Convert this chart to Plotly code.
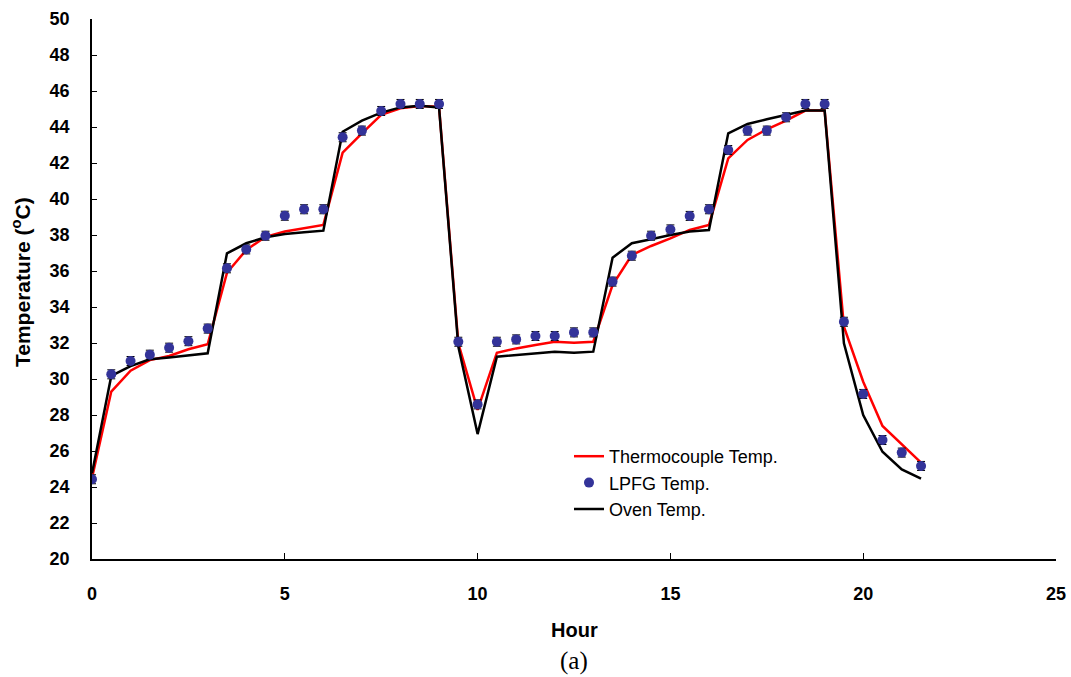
import plotly.graph_objects as go

hours = [0, 0.5, 1, 1.5, 2, 2.5, 3, 3.5, 4, 4.5, 5, 5.5, 6, 6.5, 7, 7.5, 8, 8.5, 9,
         9.5, 10, 10.5, 11, 11.5, 12, 12.5, 13, 13.5, 14, 14.5, 15, 15.5, 16, 16.5,
         17, 17.5, 18, 18.5, 19, 19.5, 20, 20.5, 21, 21.5]

thermocouple = [24.5, 29.3, 30.46, 31.05, 31.28, 31.65, 31.93, 35.9, 37.17, 37.9, 38.19,
                38.37, 38.56, 42.57, 43.65, 44.67, 45.04, 45.17, 45.13,
                31.98, 28.28, 31.46, 31.7, 31.89, 32.07, 32.02, 32.07, 35.22, 36.89,
                37.39, 37.81, 38.28, 38.56, 42.26, 43.28, 43.87, 44.35, 44.91, 44.91,
                32.91, 29.85, 27.39, 26.39, 25.35]

lpfg = [24.43, 30.26, 31.0, 31.35, 31.74, 32.1, 32.8, 36.15, 37.2, 37.96, 39.07,
        39.43, 39.43, 43.43, 43.8, 44.89, 45.28, 45.28, 45.28,
        32.07, 28.59, 32.07, 32.2, 32.39, 32.39, 32.59, 32.59, 35.41, 36.85,
        37.96, 38.31, 39.06, 39.43, 42.72, 43.8, 43.8, 44.54, 45.28, 45.28,
        33.18, 29.17, 26.61, 25.91, 25.17]

lpfg_err = [0.25] * len(hours)

oven = [24.76, 30.17, 30.72, 31.1, 31.2, 31.3, 31.43, 36.98, 37.54, 37.87, 38.06,
        38.15, 38.24, 43.74, 44.35, 44.8, 45.09, 45.18, 45.09,
        31.8, 26.94, 31.24, 31.33, 31.43, 31.52, 31.46, 31.52, 36.74, 37.54,
        37.76, 38.0, 38.19, 38.28, 43.65, 44.17, 44.43, 44.67, 44.91, 44.91,
        31.98, 28.0, 25.96, 24.98, 24.46]

x_ticks = [0, 5, 10, 15, 20, 25]
y_ticks = list(range(20, 51, 2))

W, H = 1071, 677
L, R, T, B = 92, 15, 19, 118
plot_w = W - L - R
plot_h = H - T - B
y0_px = H - B  # pixel row of the x axis


def py(px):
    return (y0_px - px) / plot_h


def px_x(px):
    return (px - L) / plot_w


fig = go.Figure()
fig.add_trace(go.Scatter(x=hours, y=thermocouple, mode="lines", name="Thermocouple Temp.",
                         line=dict(color="#ff0000", width=2.5), legendrank=1))
fig.add_trace(go.Scatter(x=hours, y=oven, mode="lines", name="Oven Temp.",
                         line=dict(color="#000000", width=2.5), legendrank=3))
fig.add_trace(go.Scatter(x=hours, y=lpfg, mode="markers", name="LPFG Temp.",
                         marker=dict(color="#333399", size=10),
                         error_y=dict(type="data", array=lpfg_err, color="#000000",
                                      thickness=1, width=4),
                         legendrank=2))

fig.update_layout(
    width=W, height=H,
    margin=dict(l=L, r=R, t=T, b=B, autoexpand=False),
    plot_bgcolor="white", paper_bgcolor="white",
    showlegend=True,
    legend=dict(x=px_x(569), y=py(438), xanchor="left", yanchor="top",
                bgcolor="rgba(0,0,0,0)",
                font=dict(family="Liberation Sans, Arial", size=18, color="#000"),
                tracegroupgap=0, itemwidth=30),
    xaxis=dict(range=[0, 25], tickvals=x_ticks, showline=True, linecolor="black", linewidth=1.5,
               ticks="inside", ticklen=6, tickcolor="black", showgrid=False, zeroline=False,
               automargin=False,
               tickfont=dict(family="Liberation Sans, Arial", size=18, color="#000", weight="bold"),
               ticklabelstandoff=18),
    yaxis=dict(range=[20, 50], tickvals=y_ticks, showline=True, linecolor="black", linewidth=1.5,
               ticks="inside", ticklen=5, tickcolor="black", showgrid=False, zeroline=False,
               automargin=False,
               tickfont=dict(family="Liberation Sans, Arial", size=18, color="#000", weight="bold"),
               ticklabelstandoff=17),
    annotations=[
        dict(text="Hour", x=0.5, xref="paper", y=py(630), yref="paper",
             xanchor="center", yanchor="middle", showarrow=False,
             font=dict(family="Liberation Sans, Arial", size=20, color="#000", weight="bold")),
        dict(text="(a)", x=0.5, xref="paper", y=py(661), yref="paper",
             xanchor="center", yanchor="middle", showarrow=False,
             font=dict(family="Liberation Serif, Times New Roman", size=25, color="#000")),
        dict(text="Temperature (<sup>o</sup>C)", textangle=-90, x=px_x(21), xref="paper",
             y=py(282), yref="paper", xanchor="center", yanchor="middle", showarrow=False,
             font=dict(family="Liberation Sans, Arial", size=21, color="#000", weight="bold")),
    ],
)

fig.write_html("out.html", config={"displayModeBar": False},
               post_script="document.body.style.margin='0';document.body.style.padding='0';")
